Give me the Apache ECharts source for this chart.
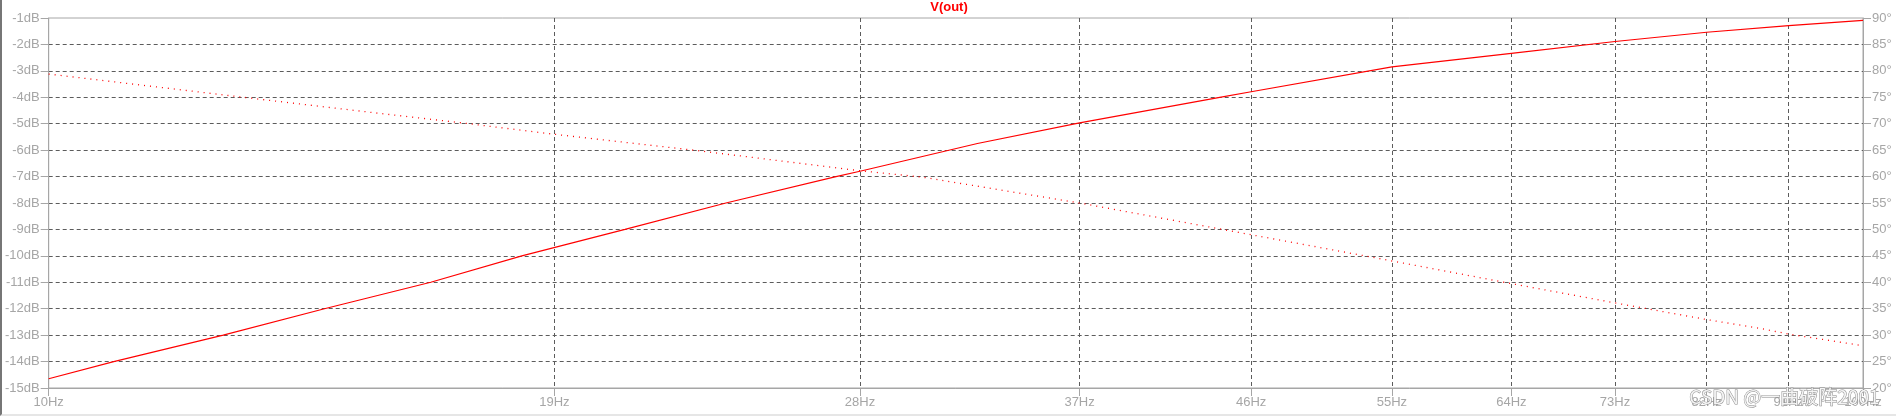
<!DOCTYPE html>
<html><head><meta charset="utf-8">
<script src="https://cdn.jsdelivr.net/npm/echarts@6/dist/echarts.min.js"></script>
<style>
html,body{margin:0;padding:0;background:#fff;}
#c{width:1896px;height:416px;box-sizing:border-box;border-left:2px solid #767676;border-bottom:2px solid #e6e6e6;}
</style>
</head><body><div id="c"></div>
<script>
const chartTitle = 'V(out)';
const watermark = 'CSDN @一曲破阵2001';
const freqTicks = [10, 19, 28, 37, 46, 55, 64, 73, 82, 91, 100];
const magFreq = [10, 10.86, 12.48, 14.19, 16.24, 18.23, 20.78, 23.62, 27.16, 28, 32.5, 37, 44.2, 46, 55, 64, 73, 82, 91, 100];
const magDb   = [-14.65, -14.0, -13.0, -12.0, -11.0, -10.0, -9.0, -8.0, -7.0, -6.80, -5.75, -4.97, -4.0, -3.79, -2.85, -2.34, -1.89, -1.54, -1.29, -1.09];
const phaseFreq = [10, 12.66, 15.18, 16.95, 19, 22.8, 28, 30.3, 37, 46, 54.3, 64, 73, 82, 88, 91, 100];
const phaseDeg  = [79.4, 75.2, 72.0, 70.1, 68.0, 64.9, 61.1, 59.9, 55.0, 49.0, 44.4, 39.75, 36.1, 32.95, 31.2, 30.2, 28.0];

const gray = '#a6a6a6';
const chart = echarts.init(document.getElementById('c'));
chart.setOption({
  animation: false,
  title: {text: chartTitle, left: 'center', top: 1, padding: 0,
    textStyle: {color: '#ff0000', fontSize: 13, fontWeight: 'bold', fontFamily: 'Liberation Sans'}},
  grid: {left: 42, right: 33, top: 18, bottom: 26, show: true, borderColor: gray, borderWidth: 1},
  xAxis: {
    type: 'log', logBase: 10, min: 10, max: 100,
    axisLine: {show: true, lineStyle: {color: gray}},
    axisTick: {show: true, length: 8, lineStyle: {color: gray}, customValues: freqTicks},
    axisLabel: {color: gray, fontSize: 13, fontFamily: 'Liberation Sans', margin: 8,
      customValues: freqTicks, formatter: v => Math.round(v) + 'Hz'},
    splitLine: {show: true, showMinLine: false, showMaxLine: false,
      lineStyle: {color: '#5c5c5c', type: [4, 3], width: 1}},
    minorTick: {show: false}, minorSplitLine: {show: false}
  },
  yAxis: [{
    type: 'value', min: -15, max: -1, interval: 1, position: 'left',
    axisLine: {show: true, lineStyle: {color: gray}},
    axisTick: {show: true, length: 8, lineStyle: {color: gray}},
    axisLabel: {color: gray, fontSize: 13, fontFamily: 'Liberation Sans', margin: 9, formatter: '{value}dB'},
    splitLine: {show: true, showMinLine: false, showMaxLine: false,
      lineStyle: {color: '#5c5c5c', type: [4, 3], width: 1}}
  }, {
    type: 'value', min: 20, max: 90, interval: 5, position: 'right',
    axisLine: {show: true, lineStyle: {color: gray}},
    axisTick: {show: true, length: 8, lineStyle: {color: gray}},
    axisLabel: {color: gray, fontSize: 13, fontFamily: 'Liberation Sans', margin: 9, formatter: '{value}°'},
    splitLine: {show: false}
  }],
  series: [{
    name: 'mag', type: 'line', yAxisIndex: 0, showSymbol: false, symbol: 'none',
    data: magFreq.map((f, i) => [f, magDb[i]]),
    lineStyle: {color: '#ff0000', width: 1.2}, z: 3
  }, {
    name: 'phase', type: 'line', yAxisIndex: 1, showSymbol: false, symbol: 'none',
    data: phaseFreq.map((f, i) => [f, phaseDeg[i]]),
    lineStyle: {color: '#ff0000', width: 1.3, type: [1, 5]}, z: 3
  }],
  graphic: [{
    type: 'text', right: 16, bottom: 7, z: 100,
    style: {text: watermark, fill: '#f4f4f4', stroke: '#8a8a8a', lineWidth: 1,
      font: '19px "Noto Sans CJK SC"'}
  }]
});
</script>
</body></html>
